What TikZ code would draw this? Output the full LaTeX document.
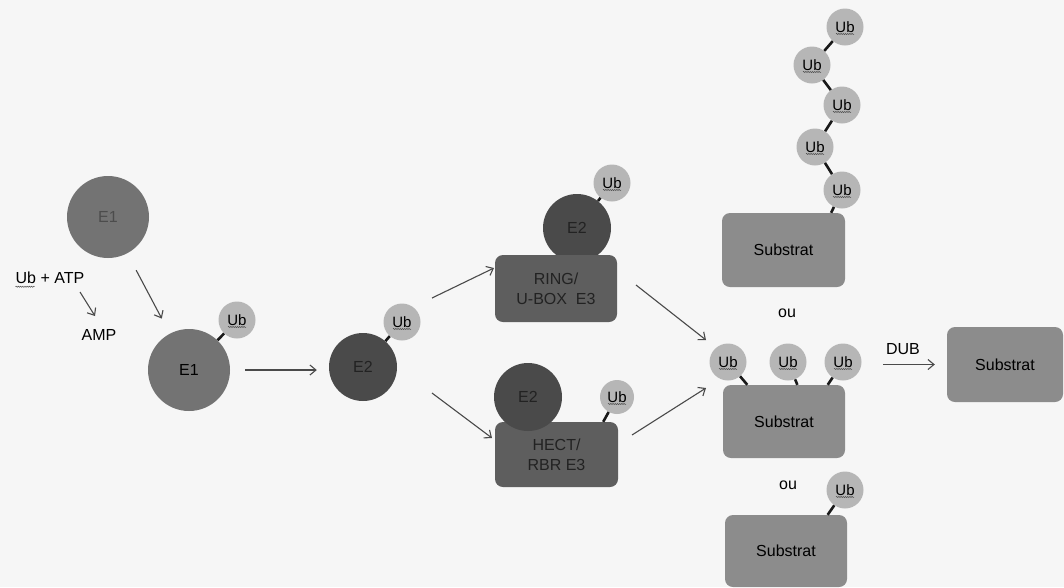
\documentclass[tikz,border=0pt]{standalone}
\usepackage{fontspec}
\setmainfont{Liberation Sans}
\usetikzlibrary{arrows.meta,shapes.geometric,decorations.pathmorphing}
\definecolor{bgc}{HTML}{F6F6F6}
\definecolor{eone}{HTML}{737373}
\definecolor{etwo}{HTML}{4A4A4A}
\definecolor{ethree}{HTML}{5E5E5E}
\definecolor{ubc}{HTML}{B6B6B6}
\definecolor{subc}{HTML}{8C8C8C}
\definecolor{arrc}{HTML}{4A4A4A}
\definecolor{dimtext}{HTML}{222222}
\definecolor{fadetext}{HTML}{4C4C4C}
\begin{document}
\begin{tikzpicture}[x=1pt,y=-1pt,
  wavy/.style={decorate, decoration={snake, amplitude=0.6pt, segment length=2.2pt}, draw=black!70, line width=0.5pt},
  txt/.style={font=\fontsize{16}{18}\selectfont, inner sep=1pt},
  eonec/.style={circle, fill=eone, minimum size=82pt, inner sep=0pt, font=\fontsize{16}{18}\selectfont},
  etwoc/.style={circle, fill=etwo, minimum size=68pt, inner sep=0pt, text=dimtext, font=\fontsize{16}{18}\selectfont},
  ubn/.style={circle, fill=ubc, minimum size=37pt, inner sep=0pt, font=\fontsize{15}{17}\selectfont,
    path picture={\draw[wavy] ([xshift=-9pt,yshift=-7pt]path picture bounding box.center) -- ([xshift=9pt,yshift=-7pt]path picture bounding box.center);}},
  ethreebox/.style={rectangle, rounded corners=8pt, fill=ethree, text=dimtext, align=center, inner sep=0pt, font=\fontsize{16}{20}\selectfont},
  subbox/.style={rectangle, rounded corners=8pt, fill=subc, inner sep=0pt, font=\fontsize{16}{18}\selectfont},
  link/.style={draw=black!90, line width=2.6pt},
  arr/.style={draw=arrc, line width=1.1pt, -{Straight Barb[length=6pt,width=10pt,line width=1.1pt]}}
]
\useasboundingbox (0,0) rectangle (1064,587);
\fill[bgc] (0,0) rectangle (1064,587);

% E1 stage
\node[eonec, text=fadetext] (e1a) at (108,217) {E1};
\node[txt] (ubatp) at (50,278) {Ub + ATP};
\draw[wavy] ([xshift=1pt,yshift=-3pt]ubatp.base west) -- ([xshift=20pt,yshift=-3pt]ubatp.base west);
\node[txt] (amp) at (99,335) {AMP};
\coordinate (atps) at (80,292);
\coordinate (ampe) at (95,316);
\draw[arr] (atps) -- (ampe);
\node[eonec] (e1b) at (189,370) {E1};
\node[ubn] (ub1) at (237,320) {Ub};
\draw[link] (ub1) -- (e1b);
\draw[arr, shorten <=19pt, shorten >=17pt] (e1a) -- (e1b);

% E2 stage
\node[etwoc] (e2) at (363,367) {E2};
\node[ubn] (ub2) at (402,322) {Ub};
\draw[link] (ub2) -- (e2);
\draw[arr, shorten <=15pt, shorten >=12pt] (e1b.east) -- (e2.west |- e1b.east);

% RING / U-BOX E3
\node[etwoc] (e2r) at (577,228) {E2};
\node[ethreebox, minimum width=122pt, minimum height=67pt] (ring) at (556,288.5) {RING/\\U-BOX\ \ E3};
\node[ubn] (ubr) at (612,183) {Ub};
\draw[link] (ubr) -- (e2r);

% HECT / RBR E3
\node[ethreebox, minimum width=123pt, minimum height=65pt] (hect) at (556.5,454.5) {HECT/\\RBR E3};
\node[etwoc] (e2h) at (528,397) {E2};
\node[ubn, minimum size=34pt] (ubh) at (617,397) {Ub};
\draw[link] (ubh) -- (hect.35.5);

\coordinate (a1s) at (432,298);
\coordinate (a1e) at (494,268);
\coordinate (a2s) at (432,393);
\coordinate (a2e) at (492,438);
\draw[arr] (a1s) -- (a1e);
\draw[arr] (a2s) -- (a2e);

\coordinate (b1s) at (636,285);
\coordinate (b1e) at (706,340);
\coordinate (b2s) at (632,435);
\coordinate (b2e) at (706,388);
\draw[arr] (b1s) -- (b1e);
\draw[arr] (b2s) -- (b2e);

% poly-ubiquitin chain
\node[subbox, minimum width=123pt, minimum height=74pt] (subT) at (783.5,250) {Substrat};
\node[ubn] (c1) at (845,27) {Ub};
\node[ubn] (c2) at (812,65) {Ub};
\node[ubn] (c3) at (842,105) {Ub};
\node[ubn] (c4) at (815,147) {Ub};
\node[ubn] (c5) at (842,190) {Ub};
\draw[link] (c1) -- (c2);
\draw[link] (c2) -- (c3);
\draw[link] (c3) -- (c4);
\draw[link] (c4) -- (c5);
\draw[link] (c5) -- (subT.38.5);

\node[txt] (ou1) at (787,313) {ou};

% multi mono-ubiquitin
\node[subbox, minimum width=122pt, minimum height=73pt] (subM) at (784,421.5) {Substrat};
\node[ubn] (m1) at (728,362) {Ub};
\node[ubn] (m2) at (788,362) {Ub};
\node[ubn] (m3) at (843,362) {Ub};
\draw[link] (m1) -- (subM.135.8);
\draw[link] (m2) -- (subM.70.6);
\draw[link] (m3) -- (subM.40.7);

\node[txt] (ou2) at (788,485) {ou};

% mono-ubiquitin
\node[subbox, minimum width=122pt, minimum height=72pt] (subB) at (786,551) {Substrat};
\node[ubn] (bu) at (845,490) {Ub};
\draw[link] (bu) -- (subB.41.3);

% DUB
\node[subbox, minimum width=116pt, minimum height=75pt] (subR) at (1005,364.5) {Substrat};
\node[txt] (dub) at (903,349) {DUB};
\draw[arr, shorten <=38pt, shorten >=12pt] (subM.east |- subR.west) -- (subR.west);
\end{tikzpicture}
\end{document}
